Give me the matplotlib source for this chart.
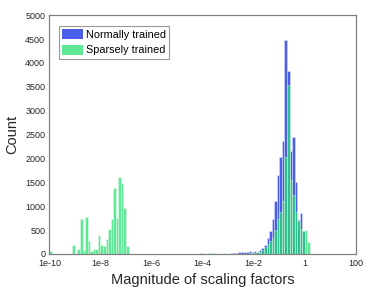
import numpy as np
import matplotlib
matplotlib.use('Agg')
import matplotlib.pyplot as plt

plt.rcParams['font.family'] = ['Liberation Sans', 'DejaVu Sans']

# Histogram bins: 0.1-decade wide, from 1e-10 to 1e2 (bin index i covers 10^(-10+0.1*i) .. 10^(-10+0.1*(i+1)))
log_start = -10.0
log_step = 0.1
n_bins = 120

# Normally trained (blue)
normal_bins = [70, 71, 72, 73, 74, 75, 76, 77, 78, 79, 80, 81, 82, 83, 84, 85, 86, 87,
               88, 89, 90, 91, 92, 93, 94, 95, 96, 97, 98, 99]
normal_counts = [8, 12, 18, 22, 30, 35, 40, 50, 55, 45, 60, 50, 75, 118, 188, 328, 481, 725,
                 1110, 1652, 2021, 2375, 4489, 3834, 2165, 2450, 1500, 711, 864, 470]

# Sparsely trained (green)
sparse_bins = [0, 9, 11, 12, 13, 14, 15, 16, 17, 18, 19, 20, 21, 22, 23, 24, 25, 26, 27, 28, 29, 30,
               58, 59, 60, 62, 63, 64, 66, 68,
               78, 79, 80, 81, 82, 83, 84, 85, 86, 87, 88, 89, 90, 91, 92, 93, 94, 95, 96, 97,
               98, 99, 100, 101]
sparse_counts = [63, 183, 113, 732, 92, 782, 260, 70, 106, 113, 401, 197, 176, 303, 521, 725, 1373,
                 746, 1606, 1479, 958, 162,
                 8, 12, 6, 10, 15, 12, 8, 12,
                 12, 18, 25, 35, 50, 84, 150, 202, 279, 340, 510, 740, 880, 1110, 2021, 3536, 1550,
                 1241, 871, 690, 520, 470, 502, 258]

xtick_vals = [1e-10, 1e-8, 1e-6, 1e-4, 1e-2, 1, 100]
xtick_labels = ['1e-10', '1e-8', '1e-6', '1e-4', '1e-2', '1', '100']
ytick_vals = list(range(0, 5001, 500))

edges = 10 ** (log_start + log_step * np.arange(n_bins + 1))
normal = np.zeros(n_bins)
normal[normal_bins] = normal_counts
sparse = np.zeros(n_bins)
sparse[sparse_bins] = sparse_counts

fig = plt.figure(figsize=(3.81, 3.03), dpi=100)
ax = fig.add_axes([0.1295, 0.162, 0.805, 0.788])

widths = np.diff(edges)
ax.bar(edges[:-1], normal, width=widths, align='edge', color='#4a5ee8',
       edgecolor=(1, 1, 1, 0.6), linewidth=0.4, label='Normally trained')
ax.bar(edges[:-1], sparse, width=widths, align='edge', color=(41/255, 225/255, 115/255, 0.75),
       edgecolor=(1, 1, 1, 0.6), linewidth=0.4, label='Sparsely trained')

ax.set_xscale('log')
ax.set_xlim(1e-10, 100)
ax.set_ylim(0, 5000)
ax.set_xticks(xtick_vals)
ax.set_xticklabels(xtick_labels)
ax.minorticks_off()
ax.set_yticks(ytick_vals)
ax.tick_params(axis='both', length=0, labelsize=6.5, colors='#262626')
ax.tick_params(axis='y', pad=3)
ax.tick_params(axis='x', pad=4)
for s in ax.spines.values():
    s.set_color('#808080')
    s.set_linewidth(0.9)

ax.set_xlabel('Magnitude of scaling factors', fontsize=10.5, color='#262626', labelpad=3)
ax.set_ylabel('Count', fontsize=10.5, color='#262626', labelpad=4)

leg = ax.legend(loc='upper left', bbox_to_anchor=(0.031, 0.954), borderaxespad=0,
                fontsize=7.8, frameon=True, fancybox=False, handlelength=1.95,
                handleheight=1.0, handletextpad=0.25, borderpad=0.3, labelspacing=0.45)
leg.get_frame().set_edgecolor('#808080')
leg.get_frame().set_linewidth(0.8)
for h in leg.legend_handles:
    h.set_edgecolor('none')

fig.savefig('out.png', dpi=100)
